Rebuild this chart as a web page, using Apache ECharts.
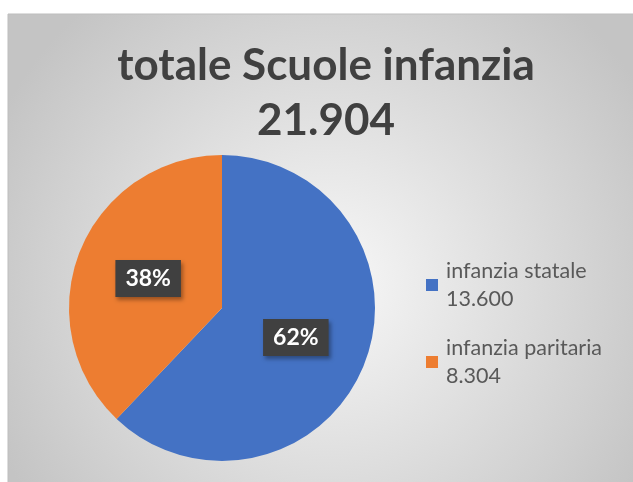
<!DOCTYPE html>
<html><head><meta charset="utf-8">
<script src="https://cdn.jsdelivr.net/npm/echarts@6/dist/echarts.min.js"></script>
<style>html,body{margin:0;padding:0;background:#fff}#c{width:633px;height:482px}</style>
</head><body><div id="c"></div>
<script>
const titleLines = ['totale Scuole infanzia', '21.904'];
const categories = ['infanzia statale', 'infanzia paritaria'];
const values = [13600, 8304];
const valueLabels = ['13.600', '8.304'];
const percents = ['62%', '38%'];
const colors = ['#4472C4', '#ED7D31'];

const chart = echarts.init(document.getElementById('c'));
const legendTops = [238, 315];
chart.setOption({
  animation: false,
  graphic: [{
    type: 'rect', z: -10, silent: true,
    shape: { x: 8, y: 14, width: 640, height: 490 },
    style: {
      fill: { type: 'radial', x: 0.5, y: 0.55, r: 0.75,
        colorStops: [{ offset: 0, color: '#f8f8f8' }, { offset: 1, color: '#c4c4c4' }] },
      stroke: '#bdbdbd', lineWidth: 1
    }
  }],
  title: {
    text: titleLines.join('\n'),
    left: 321, top: 33, textAlign: 'center',
    textStyle: { fontFamily: 'Lato', fontWeight: 'bold', fontSize: 44, color: '#404040', lineHeight: 55 }
  },
  legend: categories.map((c, i) => ({
    data: [c], orient: 'vertical', left: 421, top: legendTops[i], padding: 5,
    icon: 'rect', itemWidth: 12, itemHeight: 12, itemGap: 0,
    formatter: n => n + '\n' + valueLabels[categories.indexOf(n)],
    textStyle: { fontFamily: 'Lato', fontSize: 21.5, color: '#595959', lineHeight: 28, padding: [28, 0, 0, 3] }
  })),
  series: [{
    type: 'pie', center: [222, 308], radius: [0, 153], startAngle: 90, clockwise: true,
    color: colors,
    label: {
      position: 'inside',
      formatter: p => percents[p.dataIndex],
      color: '#fff', fontFamily: 'Lato', fontWeight: 'bold', fontSize: 23,
      backgroundColor: '#404040', padding: [8, 10, 6, 10],
      shadowColor: 'rgba(0,0,0,0.35)', shadowBlur: 4, shadowOffsetX: 2, shadowOffsetY: 3
    },
    labelLine: { show: false },
    emphasis: { disabled: true },
    data: categories.map((c, i) => ({ name: c, value: values[i] }))
  }]
});
</script></body></html>
